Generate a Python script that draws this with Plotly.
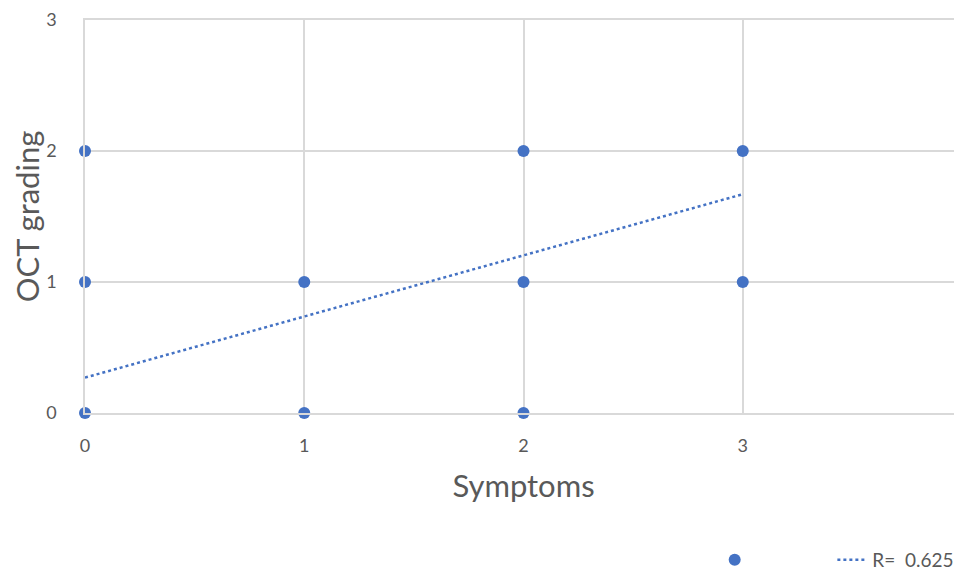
import plotly.graph_objects as go

symptoms = [0, 0, 0, 1, 1, 2, 2, 2, 3, 3]
oct_grading = [0, 1, 2, 0, 1, 0, 1, 2, 1, 2]
trend_x = [0, 3]
trend_y = [0.27, 1.67]
trend_label = "R=  0.625"
x_ticks = [0, 1, 2, 3, 4]
y_ticks = [0, 1, 2, 3]

blue = "#4472C4"
grey = "#595959"
grid = "#D9D9D9"
font = "Lato"

fig = go.Figure()
fig.add_trace(go.Scatter(x=symptoms, y=oct_grading, mode="markers", name=" ",
                         marker=dict(color=blue, size=12), legend="legend", cliponaxis=False,
                         showlegend=True))
fig.add_trace(go.Scatter(x=trend_x, y=trend_y, mode="lines", name=trend_label,
                         line=dict(color=blue, width=2.5, dash="dot"), legend="legend2",
                         showlegend=True))

# page body has an 8px margin, so the figure is shrunk by 8px and margins shifted
fig.update_layout(
    width=954, height=560,
    showlegend=True,
    margin=dict(l=77, r=0, t=12, b=155, autoexpand=False),
    paper_bgcolor="white", plot_bgcolor="white",
    font=dict(family=font, color=grey, size=18),
    xaxis=dict(range=[0, 4], tickvals=x_ticks, showgrid=True, gridcolor=grid, gridwidth=1.5,
               showline=True, linecolor=grid, linewidth=1.5, mirror=True,
               zeroline=False, ticklabelstandoff=16, automargin=False,
               ticklabeloverflow="allow",
               tickfont=dict(size=18, color=grey),
               title=dict(text="Symptoms", font=dict(size=31, color=grey), standoff=20)),
    yaxis=dict(range=[0, 3], tickvals=y_ticks, showgrid=True, gridcolor=grid, gridwidth=1.5,
               showline=True, linecolor=grid, linewidth=1.5, mirror=True,
               zeroline=False, ticklabelstandoff=23, automargin=False,
               tickfont=dict(size=18, color=grey),
               title=dict(text="OCT grading", font=dict(size=31, color=grey), standoff=8)),
    legend=dict(x=0.718, y=-0.374, xanchor="left", yanchor="middle", orientation="h",
                bgcolor="rgba(0,0,0,0)", font=dict(size=19, color=grey)),
    legend2=dict(x=0.997, y=-0.374, xanchor="right", yanchor="middle", orientation="h",
                 bgcolor="rgba(0,0,0,0)", font=dict(size=19, color=grey)),
)
fig.write_html("out.html")
